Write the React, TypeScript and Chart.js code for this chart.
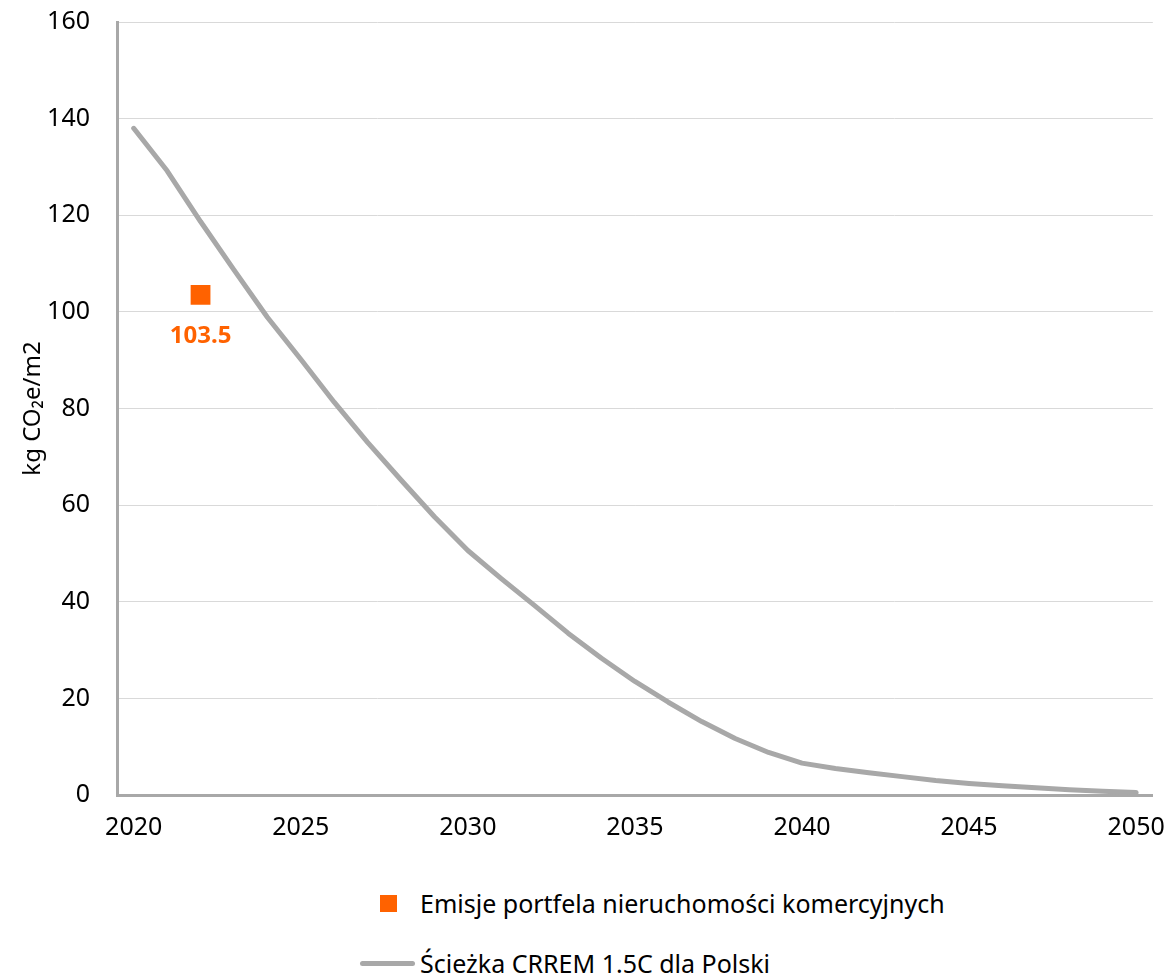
import React, { useEffect, useRef } from "react";
import { Chart, registerables } from "chart.js";

Chart.register(...registerables);

const years: string[] = [
  "2020","2021","2022","2023","2024","2025","2026","2027","2028","2029","2030",
  "2031","2032","2033","2034","2035","2036","2037","2038","2039","2040",
  "2041","2042","2043","2044","2045","2046","2047","2048","2049","2050",
];

const crremPath: number[] = [
  138.0, 129.2, 118.7, 108.7, 98.9, 90.2, 81.3, 73.0, 65.2, 57.6, 50.6,
  44.8, 39.2, 33.5, 28.3, 23.5, 19.2, 15.2, 11.7, 8.8, 6.6,
  5.5, 4.6, 3.8, 3.0, 2.4, 1.9, 1.5, 1.1, 0.8, 0.5,
];

const portfolioYear = "2022";
const portfolioValue = 103.5;

const portfolioSeries: (number | null)[] = years.map((y) => (y === portfolioYear ? portfolioValue : null));

const seriesNames = {
  portfolio: "Emisje portfela nieruchomości komercyjnych",
  crrem: "Ścieżka CRREM 1.5C dla Polski",
};

const yTitle = "kg CO₂e/m2";

const ORANGE = "#FF6200";
const GREY = "#A8A8A8";
const FONT = "'Noto Sans', 'Open Sans', sans-serif";

const CANVAS_SHIFT = 20;

export default function App() {
  const ref = useRef<HTMLCanvasElement | null>(null);

  useEffect(() => {
    if (!ref.current) return;
    const labelPlugin = {
      id: "pointLabel",
      afterDatasetsDraw(chart: any) {
        const meta = chart.getDatasetMeta(1);
        const idx = years.indexOf(portfolioYear);
        const el = meta.data[idx];
        if (!el) return;
        const ctx = chart.ctx;
        ctx.save();
        ctx.font = `bold 24px ${FONT}`;
        ctx.fillStyle = ORANGE;
        ctx.textAlign = "center";
        ctx.textBaseline = "middle";
        ctx.fillText(String(portfolioValue), el.x, el.y + 41);
        ctx.restore();
      },
    };

    const chart = new Chart(ref.current, {
      type: "line",
      data: {
        labels: years,
        datasets: [
          {
            label: seriesNames.crrem,
            data: crremPath,
            borderColor: GREY,
            borderWidth: 5,
            pointRadius: 0,
            tension: 0,
            borderCapStyle: "round",
            borderJoinStyle: "round",
          },
          {
            label: seriesNames.portfolio,
            data: portfolioSeries,
            showLine: false,
            pointStyle: "rect",
            pointRadius: 14,
            pointBackgroundColor: ORANGE,
            pointBorderWidth: 0,
            backgroundColor: ORANGE,
            borderColor: ORANGE,
          },
        ],
      },
      options: {
        animation: false,
        responsive: false,
        maintainAspectRatio: false,
        layout: { padding: { top: 2, right: 16, left: 0, bottom: 0 } },
        plugins: {
          legend: { display: false },
          tooltip: { enabled: false },
        },
        scales: {
          x: {
            type: "category",
            offset: true,
            grid: { display: false },
            border: { display: true, color: GREY, width: 3 },
            ticks: {
              autoSkip: false,
              maxRotation: 0,
              minRotation: 0,
              color: "#000",
              font: { family: FONT, size: 25 },
              padding: 10,
              callback: function (_v: any, i: number) {
                const y = years[i];
                return Number(y) % 5 === 0 ? y : "";
              },
            },
            afterFit(scale: any) {
              scale.height = 55;
            },
          },
          y: {
            min: 0,
            max: 160,
            ticks: {
              stepSize: 20,
              color: "#000",
              font: { family: FONT, size: 25 },
              padding: 27,
            },
            grid: { color: "#D9D9D9", lineWidth: 1, drawTicks: false },
            border: { display: true, color: GREY, width: 3 },
            title: {
              display: true,
              text: yTitle,
              color: "#000",
              font: { family: FONT, size: 24 },
              padding: { top: 19, bottom: 0 },
            },
            afterFit(scale: any) {
              scale.width = 117;
            },
          },
        },
      },
      plugins: [labelPlugin],
    } as any);
    return () => chart.destroy();
  }, []);

  const textStyle: React.CSSProperties = {
    position: "absolute",
    left: 420,
    fontFamily: FONT,
    fontSize: 25,
    color: "#000",
    lineHeight: "30px",
    whiteSpace: "nowrap",
  };

  return (
    <div style={{ position: "absolute", left: 0, top: 0, width: 1175, height: 973, background: "#fff", overflow: "hidden" }}>
      <canvas
        ref={ref}
        width={1175}
        height={870}
        style={{ position: "absolute", left: 0, top: -CANVAS_SHIFT, width: 1175, height: 870 }}
      />
      <div style={{ position: "absolute", left: 380, top: 895, width: 17, height: 17, background: ORANGE }} />
      <div style={{ ...textStyle, top: 888 }}>{seriesNames.portfolio}</div>
      <div style={{ position: "absolute", left: 360, top: 961, width: 55, height: 5, borderRadius: 3, background: GREY }} />
      <div style={{ ...textStyle, top: 948 }}>{seriesNames.crrem}</div>
    </div>
  );
}
